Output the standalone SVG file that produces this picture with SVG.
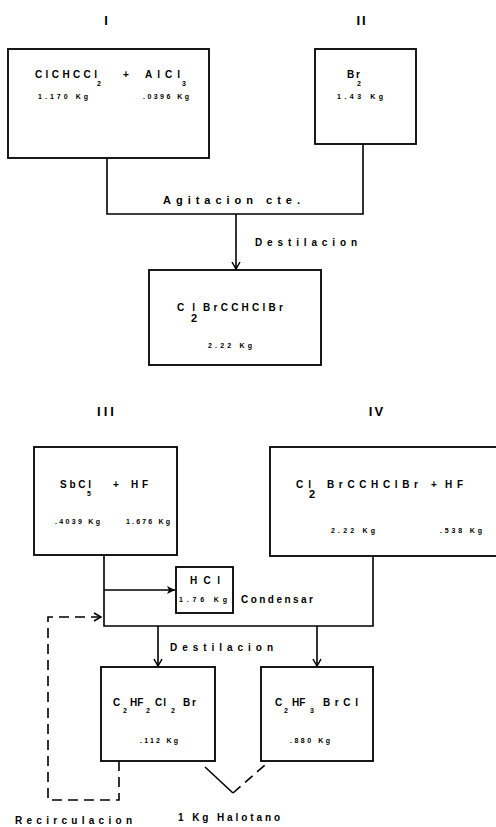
<svg xmlns="http://www.w3.org/2000/svg" width="496" height="827" viewBox="0 0 496 827">
<style>
.box{fill:none;stroke:#000;stroke-width:1.8}
.ln{fill:none;stroke:#000;stroke-width:1.6}
.dash{fill:none;stroke:#000;stroke-width:1.6;stroke-dasharray:10 6}
text{font-family:"Liberation Sans",Arial,sans-serif;font-weight:bold;fill:#000}
.hd{font-size:13px}
.f{font-size:10px}
.s{font-size:7px}
.sub{font-size:7px}
.lb{font-size:11px}
</style>
<defs>
<marker id="v" markerWidth="10" markerHeight="10" refX="8" refY="5" orient="auto" markerUnits="userSpaceOnUse">
<path d="M1,1 L8,5 L1,9" fill="none" stroke="#000" stroke-width="1.5"/>
</marker>
<marker id="t" markerWidth="10" markerHeight="10" refX="9" refY="5" orient="auto" markerUnits="userSpaceOnUse">
<path d="M1,1 L9,5 L1,9 L3,5 Z" fill="#000"/>
</marker>
</defs>
<rect width="496" height="827" fill="#fff"/>

<g id="labels">
<text class="hd" x="106" y="25" text-anchor="middle">I</text>
<text class="hd" x="362" y="25" text-anchor="middle" letter-spacing="2">II</text>
<text class="hd" x="107" y="416" text-anchor="middle" letter-spacing="3">III</text>
<text class="hd" x="377" y="416" text-anchor="middle" letter-spacing="2">IV</text>
</g>

<g id="nodeI">
<rect class="box" x="8" y="49" width="201" height="109"/>
<text class="f" x="35" y="78" textLength="62" lengthAdjust="spacing">ClCHCCl</text>
<text class="sub" x="97" y="86">2</text>
<text class="f" x="123" y="78">+</text>
<text class="f" x="145" y="78" textLength="35" lengthAdjust="spacing">AlCl</text>
<text class="sub" x="182" y="86">3</text>
<text class="s" x="38" y="99" textLength="50" lengthAdjust="spacing">1.170 Kg</text>
<text class="s" x="143" y="99" textLength="46" lengthAdjust="spacing">.0396 Kg</text>
</g>

<g id="nodeII">
<rect class="box" x="315" y="49" width="101" height="95"/>
<text class="f" x="347" y="78" textLength="13" lengthAdjust="spacing">Br</text>
<text class="sub" x="357" y="86">2</text>
<text class="s" x="337" y="99" textLength="46" lengthAdjust="spacing">1.43 Kg</text>
</g>

<g id="nodeP1">
<rect class="box" x="149" y="270" width="172" height="95"/>
<text class="f" x="177" y="311" textLength="18" lengthAdjust="spacing">Cl</text>
<text class="lb" x="191" y="322">2</text>
<text class="f" x="203" y="311" textLength="80" lengthAdjust="spacing">BrCCHClBr</text>
<text class="s" x="208" y="348" textLength="44" lengthAdjust="spacing">2.22 Kg</text>
</g>

<g id="nodeIII">
<rect class="box" x="34" y="447" width="143" height="108"/>
<text class="f" x="60" y="488" textLength="31" lengthAdjust="spacing">SbCl</text>
<text class="sub" x="87" y="496">5</text>
<text class="f" x="113" y="488">+</text>
<text class="f" x="131" y="488" textLength="17" lengthAdjust="spacing">HF</text>
<text class="s" x="55" y="524" textLength="45" lengthAdjust="spacing">.4039 Kg</text>
<text class="s" x="126" y="524" textLength="44" lengthAdjust="spacing">1.676 Kg</text>
</g>

<g id="nodeIV">
<rect class="box" x="270" y="447" width="232" height="109"/>
<text class="f" x="296" y="488" textLength="15" lengthAdjust="spacing">Cl</text>
<text class="lb" x="309" y="498">2</text>
<text class="f" x="327" y="488" textLength="91" lengthAdjust="spacing">BrCCHClBr</text>
<text class="f" x="431" y="488">+</text>
<text class="f" x="445" y="488" textLength="18" lengthAdjust="spacing">HF</text>
<text class="s" x="331" y="533" textLength="44" lengthAdjust="spacing">2.22 Kg</text>
<text class="s" x="440" y="533" textLength="42" lengthAdjust="spacing">.538 Kg</text>
</g>

<g id="nodeHCl">
<rect class="box" x="176" y="567" width="57" height="46"/>
<text class="f" x="190" y="584" textLength="30" lengthAdjust="spacing">HCl</text>
<text class="s" x="179" y="602" textLength="48" lengthAdjust="spacing">1.76 Kg</text>
</g>

<g id="nodeP2">
<rect class="box" x="101" y="667" width="114" height="94"/>
<text class="f" x="113" y="706">C</text>
<text class="sub" x="123" y="713">2</text>
<text class="f" x="130" y="706">HF</text>
<text class="sub" x="146" y="713">2</text>
<text class="f" x="155" y="706" textLength="11" lengthAdjust="spacing">Cl</text>
<text class="sub" x="171" y="713">2</text>
<text class="f" x="183" y="706" textLength="13" lengthAdjust="spacing">Br</text>
<text class="s" x="140" y="743" textLength="38" lengthAdjust="spacing">.112 Kg</text>
</g>

<g id="nodeP3">
<rect class="box" x="261" y="667" width="112" height="94"/>
<text class="f" x="275" y="706">C</text>
<text class="sub" x="284" y="713">2</text>
<text class="f" x="292" y="706">HF</text>
<text class="sub" x="310" y="713">3</text>
<text class="f" x="323" y="706" textLength="35" lengthAdjust="spacing">BrCl</text>
<text class="s" x="290" y="743" textLength="40" lengthAdjust="spacing">.880 Kg</text>
</g>

<g id="connectors">
<path class="ln" d="M107,158 V214 H363 V144"/>
<path class="ln" d="M236,214 V269" marker-end="url(#v)"/>
<path class="ln" d="M104,555 V626 H373 V556"/>
<path class="ln" d="M104,590 H175" marker-end="url(#t)"/>
<path class="ln" d="M158,626 V666" marker-end="url(#v)"/>
<path class="ln" d="M317,626 V666" marker-end="url(#v)"/>
<path class="dash" d="M119,761 V800 H48 V617 H101" marker-end="url(#v)"/>
<path class="ln" d="M205,767 L233,793"/>
<path class="dash" d="M233,793 L265,765" stroke-dasharray="7 4"/>
</g>

<g id="texts">
<text class="lb" x="163" y="204" textLength="137" lengthAdjust="spacing">Agitacion cte.</text>
<text class="f" x="255" y="246" textLength="102" lengthAdjust="spacing">Destilacion</text>
<text class="f" x="241" y="603" textLength="72" lengthAdjust="spacing">Condensar</text>
<text class="f" x="170" y="651" textLength="103" lengthAdjust="spacing">Destilacion</text>
<text class="f" x="178" y="821" textLength="102" lengthAdjust="spacing">1 Kg Halotano</text>
<text class="f" x="15" y="824" textLength="117" lengthAdjust="spacing">Recirculacion</text>
</g>
</svg>
